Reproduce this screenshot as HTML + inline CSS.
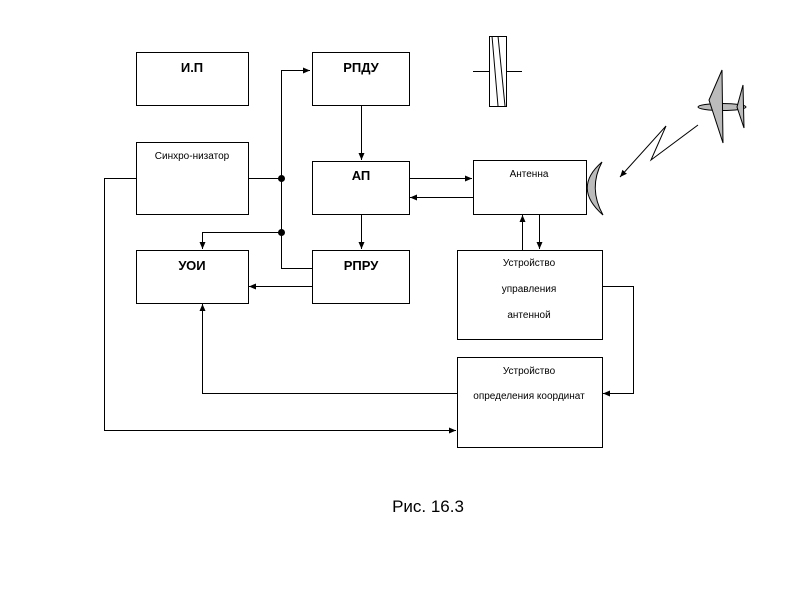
<html><body style="margin:0;background:#fff">
<svg width="800" height="600" xmlns="http://www.w3.org/2000/svg" font-family="Liberation Sans, DejaVu Sans, sans-serif">
<defs><marker id="a" markerWidth="8" markerHeight="8" refX="7" refY="4" orient="auto" markerUnits="userSpaceOnUse"><path d="M0,1 L7,4 L0,7z" fill="#000"/></marker></defs>
<g fill="#fff" stroke="#000" stroke-width="1">
<rect x="136.5" y="52.5" width="112" height="53"/>
<rect x="312.5" y="52.5" width="97" height="53"/>
<rect x="136.5" y="142.5" width="112" height="72"/>
<rect x="312.5" y="161.5" width="97" height="53"/>
<rect x="136.5" y="250.5" width="112" height="53"/>
<rect x="312.5" y="250.5" width="97" height="53"/>
<rect x="473.5" y="160.5" width="113" height="54"/>
<rect x="457.5" y="250.5" width="145" height="89"/>
<rect x="457.5" y="357.5" width="145" height="90"/>
</g>
<g fill="none" stroke="#000" stroke-width="1">
<path d="M248,178.5H281.5V268.5H312"/>
<path d="M281.5,178V70.5H310" marker-end="url(#a)"/>
<path d="M281,232.5H202.5V249" marker-end="url(#a)"/>
<path d="M136,178.5H104.5V430.5H456" marker-end="url(#a)"/>
<path d="M361.5,105V160" marker-end="url(#a)"/>
<path d="M361.5,214V249" marker-end="url(#a)"/>
<path d="M409,178.5H472" marker-end="url(#a)"/>
<path d="M473,197.5H410" marker-end="url(#a)"/>
<path d="M312,286.5H249" marker-end="url(#a)"/>
<path d="M522.5,250V215" marker-end="url(#a)"/>
<path d="M539.5,214V249" marker-end="url(#a)"/>
<path d="M602,286.5H633.5V393.5H603" marker-end="url(#a)"/>
<path d="M457,393.5H202.5V304" marker-end="url(#a)"/>
<path d="M473,71.5H522"/>
<rect x="489.5" y="36.5" width="17" height="70" fill="#fff"/>
<path d="M492,36 L498,106 M498,36 L505,106"/>
<path d="M698,125 L651,160 L666,126 L620,177" marker-end="url(#a)"/>
</g>
<circle cx="281.5" cy="178.5" r="3.5"/>
<circle cx="281.5" cy="232.5" r="3.5"/>
<path d="M602,162 Q572,188 603,215 Q588,188 602,162z" fill="#bbb" stroke="#000"/>
<g fill="#bbb" stroke="#000">
<ellipse cx="722" cy="107" rx="24" ry="3.5"/>
<path d="M722,70 L723,143 L709,100z"/>
<path d="M743,85 L744,128 L737,107z"/>
</g>
<g font-size="13" font-weight="bold" text-anchor="middle">
<text x="192" y="72">И.П</text><text x="361" y="72">РПДУ</text>
<text x="361" y="180">АП</text><text x="192" y="270">УОИ</text><text x="361" y="270">РПРУ</text>
</g>
<g font-size="10" text-anchor="middle">
<text x="192" y="159">Синхро-низатор</text>
<text x="529" y="177">Антенна</text>
<text x="529" y="266">Устройство</text><text x="529" y="292">управления</text><text x="529" y="318">антенной</text>
<text x="529" y="374">Устройство</text><text x="529" y="399">определения координат</text>
</g>
<text x="428" y="512" font-size="17" text-anchor="middle">Рис. 16.3</text>
</svg>
</body></html>
